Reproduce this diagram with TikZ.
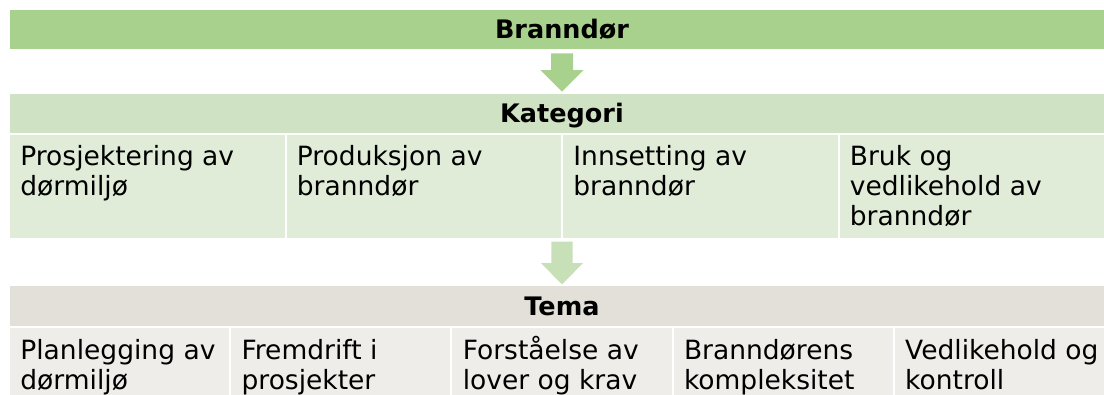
\documentclass[tikz,border=0pt]{standalone}
\usepackage{fontspec}
\setmainfont{DejaVu Sans}
\usetikzlibrary{calc}
\definecolor{gronnmork}{HTML}{A9D18E}
\definecolor{gronnlys}{HTML}{CFE2C3}
\definecolor{gronnblek}{HTML}{E0ECD8}
\definecolor{gronnpil}{HTML}{C8E0B8}
\definecolor{gratema}{HTML}{E3E0DA}
\definecolor{grablek}{HTML}{EEEDE9}

\begin{document}
\begin{tikzpicture}[x=1pt, y=1pt,
    bar/.style={rectangle, draw=white, line width=2pt, inner sep=0pt, outer sep=0pt, anchor=north west,
        minimum width=1106pt, text height=18.5pt, text depth=0pt, font=\fontsize{25.5}{30}\selectfont\bfseries},
    celle/.style={rectangle, draw=white, line width=2pt, inner sep=0pt, outer sep=0pt, anchor=north west},
    celletekst/.style={anchor=north west, inner sep=0pt, align=left, font=\fontsize{26.5}{30}\selectfont}
]
    \useasboundingbox (0,0) rectangle (1104,-394);
    \clip (0,0) rectangle (1104,-394);

    % overskrifter
    \node[bar, fill=gronnmork, minimum height=41pt] (branndor) at (9,-9) {Branndør};
    \node[bar, fill=gronnlys, minimum height=40.5pt] (kategori) at (9,-93) {Kategori};
    \node[bar, fill=gratema, minimum height=42pt] (tema) at (9,-285) {Tema};

    % kategorier
    \foreach \i/\tekst in {1/{Prosjektering av\\dørmiljø}, 2/{Produksjon av\\branndør},
            3/{Innsetting av\\branndør}, 4/{Bruk og\\vedlikehold av\\branndør}} {
        \node[celle, fill=gronnblek, minimum width=276.5pt, minimum height=105.8pt] (k\i) at ({9+(\i-1)*276.5}, -133.5) {};
        \node[celletekst] (k\i-tekst) at ($(k\i.north west)+(11.2,-5.8)$) {\rule{0pt}{26pt}\tekst};
    }

    % tema
    \foreach \i/\tekst in {1/{Planlegging av\\dørmiljø}, 2/{Fremdrift i\\prosjekter}, 3/{Forståelse av\\lover og krav},
            4/{Branndørens\\kompleksitet}, 5/{Vedlikehold og\\kontroll}} {
        \node[celle, fill=grablek, minimum width=221.2pt, minimum height=100pt] (t\i) at ({9+(\i-1)*221.2}, -327) {};
        \node[celletekst] (t\i-tekst) at ($(t\i.north west)+(11.2,-6.2)$) {\rule{0pt}{26pt}\tekst};
    }

    % piler
    \fill[gronnmork] ($(branndor.south)+(-11,-3.3)$) -- ++(0,-16.7) -- ++(-10.5,0) -- ++(21.5,-21.7)
        -- ++(21.5,21.7) -- ++(-10.5,0) -- ++(0,16.7) -- cycle;
    \fill[gronnpil] ($(k2.south east)+(-10.7,-2.4)$) -- ++(0,-21.3) -- ++(-10.5,0) -- ++(21.2,-21.3)
        -- ++(21.2,21.3) -- ++(-10.5,0) -- ++(0,21.3) -- cycle;
\end{tikzpicture}
\end{document}
